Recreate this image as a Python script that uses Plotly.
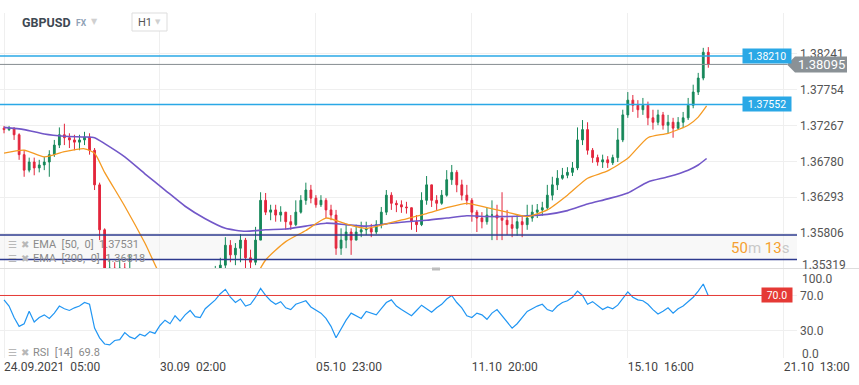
import plotly.graph_objects as go

# ------------------------------------------------------------------ data
# 3-hour candles, x = hourly bar number counted from 24.09.2021 05:00
candle_bar = list(range(0, 423, 3))
first_open = 1.3723
close = [
    1.3721, 1.3723, 1.3714, 1.3687, 1.3666, 1.3677, 1.3669, 1.3673, 1.3677, 1.3687,
    1.3700, 1.3714, 1.3710, 1.3707, 1.3704, 1.3707, 1.3711, 1.3693, 1.3646, 1.3585,
    1.3524, 1.3533, 1.3528, 1.3533, 1.3528, 1.3531, 1.3503, 1.3476, 1.3436, 1.3429,
    1.3442, 1.3463, 1.3469, 1.3483, 1.3476, 1.3490, 1.3497, 1.3503, 1.3510, 1.3517,
    1.3513, 1.3520, 1.3528, 1.3537, 1.3564, 1.3551, 1.3560, 1.3571, 1.3547, 1.3541,
    1.3571, 1.3625, 1.3609, 1.3612, 1.3605, 1.3609, 1.3596, 1.3592, 1.3609, 1.3625,
    1.3639, 1.3628, 1.3619, 1.3625, 1.3612, 1.3605, 1.3560, 1.3571, 1.3582, 1.3571,
    1.3582, 1.3585, 1.3587, 1.3582, 1.3592, 1.3609, 1.3632, 1.3621, 1.3619, 1.3616,
    1.3615, 1.3596, 1.3592, 1.3625, 1.3646, 1.3625, 1.3621, 1.3632, 1.3653, 1.3663,
    1.3646, 1.3632, 1.3625, 1.3609, 1.3601, 1.3596, 1.3605, 1.3605, 1.3601, 1.3598,
    1.3592, 1.3587, 1.3596, 1.3592, 1.3601, 1.3609, 1.3612, 1.3615, 1.3632, 1.3646,
    1.3655, 1.3659, 1.3663, 1.3669, 1.3707, 1.3721, 1.3693, 1.3683, 1.3677, 1.3680,
    1.3676, 1.3683, 1.3707, 1.3741, 1.3761, 1.3754, 1.3748, 1.3754, 1.3737, 1.3731,
    1.3741, 1.3727, 1.3731, 1.3723, 1.3731, 1.3737, 1.3754, 1.3772, 1.3791, 1.3826,
    1.38095,
]
high = [
    1.3726, 1.3726, 1.3724, 1.3716, 1.3693, 1.3683, 1.3683, 1.3680, 1.3684, 1.3693,
    1.3707, 1.3724, 1.3729, 1.3716, 1.3714, 1.3714, 1.3718, 1.3716, 1.3696, 1.3649,
    1.3587, 1.3544, 1.3541, 1.3544, 1.3540, 1.3552, 1.3533, 1.3506, 1.3483, 1.3449,
    1.3456, 1.3469, 1.3483, 1.3493, 1.3490, 1.3500, 1.3506, 1.3514, 1.3520, 1.3528,
    1.3524, 1.3528, 1.3536, 1.3547, 1.3575, 1.3571, 1.3567, 1.3579, 1.3574, 1.3558,
    1.3589, 1.3636, 1.3635, 1.3619, 1.3619, 1.3617, 1.3609, 1.3605, 1.3625, 1.3632,
    1.3649, 1.3646, 1.3632, 1.3632, 1.3628, 1.3619, 1.3612, 1.3587, 1.3592, 1.3587,
    1.3592, 1.3596, 1.3596, 1.3593, 1.3598, 1.3616, 1.3639, 1.3636, 1.3625, 1.3625,
    1.3623, 1.3615, 1.3605, 1.3636, 1.3658, 1.3646, 1.3632, 1.3639, 1.3666, 1.3673,
    1.3666, 1.3653, 1.3646, 1.3628, 1.3612, 1.3609, 1.3615, 1.3625, 1.3619, 1.3636,
    1.3612, 1.3603, 1.3605, 1.3605, 1.3619, 1.3619, 1.3620, 1.3623, 1.3646, 1.3657,
    1.3666, 1.3669, 1.3670, 1.3677, 1.3724, 1.3734, 1.3731, 1.3696, 1.3687, 1.3687,
    1.3685, 1.3687, 1.3723, 1.3748, 1.3772, 1.3768, 1.3761, 1.3764, 1.3759, 1.3748,
    1.3748, 1.3745, 1.3741, 1.3737, 1.3738, 1.3745, 1.3764, 1.3782, 1.3798, 1.3832,
    1.3833,
]
low = [
    1.3716, 1.3719, 1.3707, 1.3680, 1.3657, 1.3663, 1.3659, 1.3663, 1.3666, 1.3657,
    1.3684, 1.3696, 1.3700, 1.3696, 1.3693, 1.3693, 1.3700, 1.3687, 1.3639, 1.3571,
    1.3503, 1.3517, 1.3510, 1.3517, 1.3510, 1.3513, 1.3490, 1.3463, 1.3422, 1.3415,
    1.3422, 1.3438, 1.3456, 1.3465, 1.3465, 1.3469, 1.3483, 1.3490, 1.3497, 1.3503,
    1.3500, 1.3506, 1.3514, 1.3524, 1.3533, 1.3541, 1.3537, 1.3541, 1.3533, 1.3531,
    1.3537, 1.3571, 1.3605, 1.3598, 1.3596, 1.3596, 1.3585, 1.3585, 1.3590, 1.3607,
    1.3619, 1.3621, 1.3615, 1.3616, 1.3601, 1.3598, 1.3551, 1.3551, 1.3560, 1.3551,
    1.3571, 1.3575, 1.3578, 1.3575, 1.3579, 1.3587, 1.3605, 1.3612, 1.3609, 1.3608,
    1.3607, 1.3585, 1.3582, 1.3590, 1.3619, 1.3616, 1.3612, 1.3619, 1.3630, 1.3646,
    1.3636, 1.3625, 1.3619, 1.3596, 1.3582, 1.3587, 1.3592, 1.3571, 1.3571, 1.3571,
    1.3578, 1.3575, 1.3577, 1.3575, 1.3585, 1.3596, 1.3601, 1.3604, 1.3612, 1.3625,
    1.3639, 1.3653, 1.3655, 1.3658, 1.3666, 1.3700, 1.3687, 1.3676, 1.3672, 1.3669,
    1.3669, 1.3673, 1.3677, 1.3704, 1.3737, 1.3745, 1.3737, 1.3741, 1.3727, 1.3721,
    1.3727, 1.3721, 1.3716, 1.3710, 1.3721, 1.3723, 1.3734, 1.3750, 1.3768, 1.3788,
    1.3805,
]
open_ = [first_open] + close[:-1]

ema_bar = [0, 12, 24, 36, 48, 54, 60, 72, 84, 96, 108, 120, 132, 144, 156, 168, 180, 192, 204,
           216, 228, 240, 252, 264, 276, 288, 300, 312, 324, 336, 348, 360, 372, 384, 396, 408, 414, 419]
ema50 = [1.3689, 1.3693, 1.3684, 1.3691, 1.3695, 1.3689, 1.3663, 1.3617, 1.3567, 1.3512,
         1.3490, 1.3480, 1.3483, 1.3499, 1.3544, 1.3569, 1.3584, 1.3601, 1.3593, 1.3587,
         1.3593, 1.3600, 1.3607, 1.3615, 1.3621, 1.3615, 1.3609, 1.3603, 1.3612, 1.3632,
         1.3655, 1.3665, 1.3682, 1.3710, 1.3716, 1.3727, 1.3738, 1.37531]
ema200 = [1.3724, 1.3721, 1.3715, 1.3712, 1.3711, 1.3710, 1.3702, 1.3684, 1.3661, 1.3639,
          1.3617, 1.3600, 1.3587, 1.3583, 1.3585, 1.3586, 1.3590, 1.3594, 1.3592, 1.3590,
          1.3593, 1.3596, 1.3598, 1.3601, 1.3604, 1.3603, 1.3603, 1.3604, 1.3606, 1.3611,
          1.3620, 1.3627, 1.3635, 1.3650, 1.3657, 1.3666, 1.3673, 1.36818]

rsi = [
    65, 58, 45, 35, 38, 52, 40, 45, 48, 44,
    50, 58, 55, 53, 56, 58, 62, 60, 33, 22,
    15, 14, 19, 20, 28, 23, 21, 26, 24, 29,
    27, 36, 42, 38, 47, 41, 48, 53, 46, 45,
    55, 60, 65, 72, 77, 68, 62, 66, 58, 60,
    68, 78, 70, 64, 60, 63, 56, 54, 60, 62,
    64, 57, 53, 50, 44, 35, 22, 32, 42, 50,
    47, 44, 52, 50, 48, 55, 62, 65, 58, 54,
    50, 47, 53, 59, 55, 51, 56, 60, 66, 70,
    62, 56, 47, 45, 50, 48, 43, 50, 54, 47,
    40, 33, 38, 45, 52, 55, 58, 60, 54, 52,
    58, 62, 64, 68, 75, 70, 60, 63, 58, 54,
    57, 55, 59, 66, 74, 68, 65, 64, 60, 54,
    49, 52, 56, 50, 55, 58, 63, 68, 75, 83,
    69.8,
]

price_ticks = [1.38241, 1.37754, 1.37267, 1.36780, 1.36293, 1.35806, 1.35319]
rsi_ticks = [100, 70, 30, 0]
time_tick_bar = [0, 93, 186, 279, 372, 465]
time_tick_label = ["24.09.2021  05:00", "30.09  02:00", "05.10  23:00",
                   "11.10  20:00", "15.10  16:00", "21.10  13:00"]
blue_levels = [1.38210, 1.37552]
last_price = 1.38095
rsi_level = 70
ema50_label = "EMA  [50,  0]  1.37531"
ema200_label = "EMA  [200,  0]  1.36818"
rsi_label = "RSI  [14]  69.8"

# ------------------------------------------------------------------ layout helpers
W, H = 859, 385
def px(x):
    return x / W
def py(y):
    return 1 - y / H

FONT = "Roboto"
GRID = "#efefef"
nb = lambda s: s.replace("  ", "\u00a0\u00a0")

fig = go.Figure()
fig.add_trace(go.Candlestick(
    x=candle_bar, open=open_, high=high, low=low, close=close,
    increasing=dict(line=dict(color="#17885a", width=1), fillcolor="#17885a"),
    decreasing=dict(line=dict(color="#e3263c", width=1), fillcolor="#e3263c"),
    whiskerwidth=0, showlegend=False, hoverinfo="skip", xaxis="x", yaxis="y"))
fig.add_trace(go.Scatter(x=ema_bar, y=ema200, mode="lines", line=dict(color="#7257c8", width=1.6, shape="spline", smoothing=0.6),
                         showlegend=False, hoverinfo="skip", xaxis="x", yaxis="y"))
fig.add_trace(go.Scatter(x=ema_bar, y=ema50, mode="lines", line=dict(color="#f59a22", width=1.3, shape="spline", smoothing=0.6),
                         showlegend=False, hoverinfo="skip", xaxis="x", yaxis="y"))
fig.add_trace(go.Scatter(x=candle_bar, y=rsi, mode="lines", line=dict(color="#2196f3", width=1.2),
                         showlegend=False, hoverinfo="skip", xaxis="x2", yaxis="y2"))

xr = [-2.4, 472.9]
xdom = [0, px(797)]
# the edge labels (lowest price, RSI 100 and 0) are drawn as annotations, nudged like the reference
price_text = [f"{v:.5f}" for v in price_ticks[:-1]] + [""]
rsi_text = ["", "70.0", "30.0", ""]
fig.update_layout(
    width=W, height=H, margin=dict(l=0, r=0, t=0, b=0),
    paper_bgcolor="white", plot_bgcolor="white",
    font=dict(family=FONT, size=12, color="#555"),
    boxgap=0.5,
    xaxis=dict(domain=xdom, range=xr, anchor="y", tickvals=time_tick_bar, showticklabels=False,
               showgrid=True, gridcolor=GRID, zeroline=False, showline=False,
               rangeslider=dict(visible=False), fixedrange=True),
    yaxis=dict(domain=[py(269), py(13)], range=[1.35318, 1.38793], anchor="x", side="right",
               tickvals=price_ticks, ticktext=price_text,
               tickfont=dict(size=12, color="#555"), ticks="", ticklabelstandoff=2,
               showgrid=True, gridcolor=GRID, zeroline=False, showline=False, automargin=False),
    xaxis2=dict(domain=xdom, range=xr, anchor="y2", matches="x", tickvals=time_tick_bar,
                ticktext=[nb(t) for t in time_tick_label], ticklabelposition="outside right",
                tickfont=dict(size=12, color="#444"), ticks="", showgrid=True, gridcolor=GRID,
                zeroline=False, showline=False, automargin=False),
    yaxis2=dict(domain=[py(357.5), py(269)], range=[-0.3, 100], anchor="x2", side="right",
                tickvals=rsi_ticks, ticktext=rsi_text,
                tickfont=dict(size=12, color="#555"), ticks="", ticklabelstandoff=2,
                showgrid=True, gridcolor=GRID, zeroline=False, showline=False, automargin=False),
)

shapes = []
# legend overlay band
shapes.append(dict(type="rect", xref="paper", yref="paper", x0=0, x1=px(797), y0=py(259.5), y1=py(235),
                   fillcolor="rgba(247,247,247,0.85)", line=dict(width=0), layer="between"))
for yy in (235, 259.5):
    shapes.append(dict(type="line", xref="paper", yref="paper", x0=0, x1=px(797), y0=py(yy), y1=py(yy),
                       line=dict(color="#2d3a8e", width=1.5), layer="above"))
# horizontal price levels
for lv in blue_levels:
    shapes.append(dict(type="line", xref="paper", yref="y", x0=0, x1=px(743), y0=lv, y1=lv,
                       line=dict(color="#2aa8e6", width=1.5), layer="above"))
shapes.append(dict(type="line", xref="paper", yref="y", x0=0, x1=px(787), y0=last_price, y1=last_price,
                   line=dict(color="#868c91", width=1), layer="above"))
# last price tag with arrow
shapes.append(dict(type="path", xref="paper", yref="y", xsizemode="pixel", ysizemode="pixel",
                   xanchor=px(787), yanchor=last_price, path="M0,0 L8,8 L60,8 L60,-8 L8,-8 Z",
                   fillcolor="#8a9196", line=dict(width=0), layer="above"))
# RSI 70 level
shapes.append(dict(type="line", xref="paper", yref="y2", x0=0, x1=px(762), y0=rsi_level, y1=rsi_level,
                   line=dict(color="#e53935", width=1), layer="above"))
# panel separator
shapes.append(dict(type="line", xref="paper", yref="paper", x0=0, x1=1, y0=py(268.5), y1=py(268.5),
                   line=dict(color="#dddddd", width=1)))
# scroll handle
shapes.append(dict(type="rect", xref="paper", yref="paper", x0=px(432), x1=px(440), y0=py(270.5), y1=py(267.5),
                   fillcolor="#bdbdbd", line=dict(width=0), layer="above"))
# H1 box
shapes.append(dict(type="rect", xref="paper", yref="paper", x0=px(132), x1=px(167), y0=py(31), y1=py(13),
                   fillcolor="white", line=dict(color="#dddddd", width=1), layer="above"))
fig.update_layout(shapes=shapes)

ann = []
def txt(x, y, text, size, color, anchor="left", family=FONT, **kw):
    ann.append(dict(xref="paper", yref="paper", x=px(x), y=py(y), text=text, showarrow=False,
                    xanchor=anchor, yanchor="middle", font=dict(family=family, size=size, color=color), **kw))

# header
txt(20, 22.5, "<b>GBPUSD</b>", 12.5, "#3e4953")
txt(74, 23, "<b>FX</b>", 8.5, "#8fa1b6")
txt(89, 21, "▼", 8, "#d0d0d0", family="DejaVu Sans")
txt(136, 22, "H1", 11, "#555")
txt(153, 22, "▼", 7, "#d0d0d0", family="DejaVu Sans")

# legends
for yy, label in ((244, ema50_label), (258, ema200_label), (352.5, rsi_label)):
    txt(6, yy, "☰", 10, "#b8b8b8", family="DejaVu Sans")
    txt(19, yy, "✖", 10, "#b8b8b8", family="DejaVu Sans")
    txt(31, yy, nb(label), 11, "#8a8a8a")

# countdown
txt(791, 248, '<span style="color:#f5a030">50</span><span style="color:#c8c8c8">m </span>'
              '<span style="color:#f5a030">13</span><span style="color:#c8c8c8">s</span>', 15, "#f5a030", anchor="right")

# level labels
for lv in blue_levels:
    ann.append(dict(xref="paper", yref="y", x=px(767), y=lv, text=f"{lv:.5f}", showarrow=False,
                    xanchor="center", yanchor="middle", bgcolor="#2aa8e6", width=46, height=12, borderpad=1,
                    font=dict(family=FONT, size=10.5, color="white")))
ann.append(dict(xref="paper", yref="y", x=px(821), y=last_price, text=f"{last_price:.5f}", showarrow=False,
                xanchor="center", yanchor="middle", font=dict(family=FONT, size=13, color="white")))
ann.append(dict(xref="paper", yref="y2", x=px(777), y=rsi_level, text=f"{rsi_level:.1f}", showarrow=False,
                xanchor="center", yanchor="middle", bgcolor="#e53935", width=28, height=12, borderpad=1,
                font=dict(family=FONT, size=10.5, color="white")))
# edge axis labels
edge = [("y", price_ticks[-1], f"{price_ticks[-1]:.5f}", 4),
        ("y2", rsi_ticks[0], f"{rsi_ticks[0]:.1f}", -10),
        ("y2", rsi_ticks[-1], f"{rsi_ticks[-1]:.1f}", 3)]
for ax, val, label, shift in edge:
    ann.append(dict(xref="paper", yref=ax, x=px(800), y=val, text=label, showarrow=False,
                    xanchor="left", yanchor="middle", yshift=shift, font=dict(family=FONT, size=12, color="#555")))
fig.update_layout(annotations=ann)

fig.write_html("out.html", config={"displayModeBar": False},
               post_script="document.body.style.margin='0';document.body.style.overflow='hidden';")
